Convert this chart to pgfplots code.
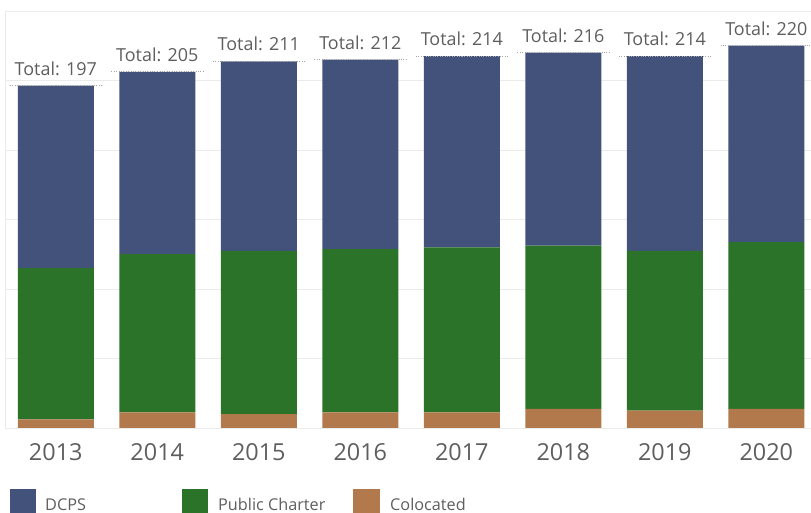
\documentclass[border=0pt]{standalone}
\usepackage{pgfplots}
\usepackage{pgfplotstable}
\pgfplotsset{compat=1.18}
\usepackage{fontspec}
\setmainfont{Open Sans}
\definecolor{dcps}{HTML}{42527A}
\definecolor{pcs}{HTML}{2A7328}
\definecolor{col}{HTML}{B2794C}
\definecolor{txt}{HTML}{5E5E5E}
\definecolor{gridc}{HTML}{EBEBEB}

\pgfplotstableread{
x year col pcs dcps total
0 2013 5 87 105 197
1 2014 9 91 105 205
2 2015 8 94 109 211
3 2016 9 94 109 212
4 2017 9 95 110 214
5 2018 11 94 111 216
6 2019 10 92 112 214
7 2020 11 96 113 220
}\data

\pgfplotsset{mybase/.style={scale only axis, width=806bp, height=417bp,
  xmin=-0.5, xmax=7.44, ymin=0, ymax=240, at={(5bp,85bp)}, anchor=south west,
  /pgf/number format/assume math mode=true}}

\begin{document}
\begin{tikzpicture}
\begin{axis}[mybase, ybar stacked, bar width=76bp,
  ytick={0,40,...,240}, ymajorgrids, grid style={gridc, line width=0.8bp},
  yticklabels={}, major y tick style={draw=none},
  xtick={0,...,7}, xticklabels={2013,2014,2015,2016,2017,2018,2019,2020},
  major x tick style={draw=none},
  extra x ticks={-0.5,0.5,...,6.5}, extra x tick labels={},
  extra x tick style={tick align=outside, major tick length=8bp, major tick style={draw=gridc, line width=0.8bp}},
  xticklabel style={font=\fontsize{23.5}{23.5}\selectfont, text=txt, inner sep=0pt, yshift=-15bp},
  axis x line*=bottom, axis y line*=left, axis line style={-, draw=gridc, line width=0.8bp},
  clip=false]
\addplot[fill=col, draw=none] table[x=x, y=col]{\data};
\addplot[fill=pcs, draw=none] table[x=x, y=pcs]{\data};
\addplot[fill=dcps, draw=none] table[x=x, y=dcps]{\data};
\end{axis}
\begin{axis}[mybase, hide axis, clip=false]
\addplot[draw=none, mark=none,
  error bars/.cd, x dir=both, x fixed=0.46, error mark=none,
  error bar style={draw=gray!70, dotted, line width=1.2bp}]
  table[x=x, y=total]{\data};
\addplot[draw=none, mark=none, point meta=explicit,
  nodes near coords={Total: \pgfmathprintnumber{\pgfplotspointmeta}},
  every node near coord/.append style={font=\fontsize{18}{18}\selectfont, text=txt, anchor=south, inner sep=0pt, yshift=10bp}]
  table[x=x, y=total, meta=total]{\data};
\end{axis}
\fill[dcps] (10bp,0) rectangle (36bp,24bp);
\node[anchor=base west, inner sep=0pt, font=\fontsize{16.3}{16.3}\selectfont, text=txt] at (45bp,3bp) {DCPS};
\fill[pcs] (182bp,0) rectangle (208bp,24bp);
\node[anchor=base west, inner sep=0pt, font=\fontsize{16.3}{16.3}\selectfont, text=txt] at (218bp,3bp) {Public Charter};
\fill[col] (353bp,0) rectangle (380bp,24bp);
\node[anchor=base west, inner sep=0pt, font=\fontsize{16.3}{16.3}\selectfont, text=txt] at (390bp,3bp) {Colocated};
\pgfresetboundingbox
\useasboundingbox (0,0) rectangle (811bp,513bp);
\end{tikzpicture}
\end{document}
